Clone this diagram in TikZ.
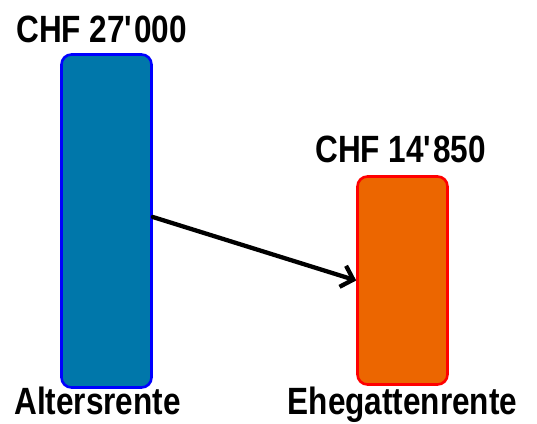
\documentclass[tikz,border=0pt]{standalone}
\usepackage{fontspec}
\setmainfont{Liberation Sans}[FakeStretch=0.83]
\usetikzlibrary{arrows.meta,positioning}
\definecolor{barblue}{RGB}{0,119,170}
\definecolor{barorange}{RGB}{236,102,0}
\tikzset{
  bar/.style={rounded corners=10pt, line width=2.6pt, minimum width=90pt, inner sep=0pt},
  lbl/.style={font=\bfseries\fontsize{38}{40}\selectfont, inner sep=0pt, anchor=base}
}
\begin{document}
\begin{tikzpicture}[x=1pt,y=1pt]
\useasboundingbox (0,0) rectangle (537,423);
% bars (height ~ amount)
\node[bar, draw=blue, fill=barblue, minimum height=333pt] (alt) at (106.5,202) {};
\node[bar, draw=red, fill=barorange, minimum height=208pt] (ehe) at (402.5,142.5) {};
% amounts above
\node[lbl] (altval) at ([xshift=-5pt,yshift=11pt]alt.north) {CHF 27\textquotesingle000};
\node[lbl] (eheval) at ([xshift=-2pt,yshift=13pt]ehe.north) {CHF 14\textquotesingle850};
% names below
\node[lbl] (altname) at ([xshift=-9pt,yshift=-26pt]alt.south) {Altersrente};
\node[lbl] (ehename) at ([yshift=-29pt]ehe.south) {Ehegattenrente};
% transfer
\draw[line width=4.3pt, line cap=round, -{Straight Barb[length=11pt,width=22pt,line width=4.3pt]}]
  ([yshift=4pt]alt.east) -- (ehe.west);
\end{tikzpicture}
\end{document}
